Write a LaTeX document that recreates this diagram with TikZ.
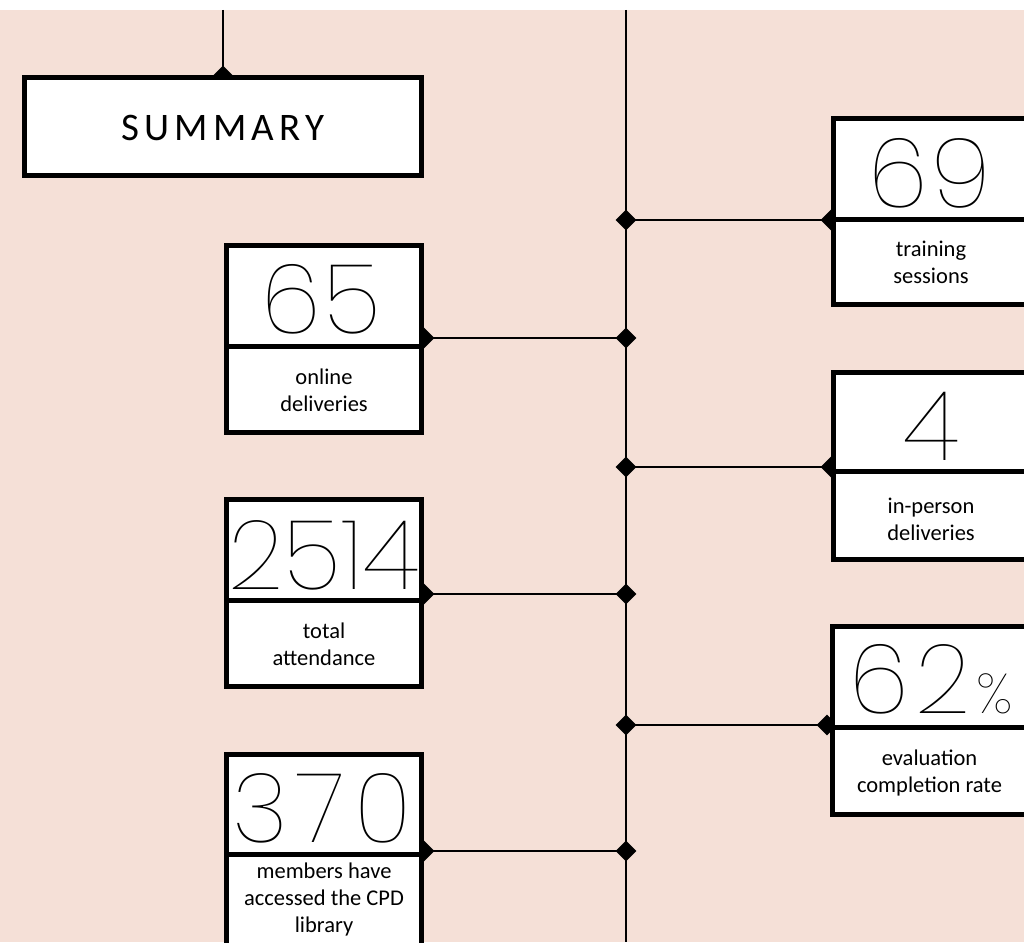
\documentclass[tikz,border=0pt]{standalone}
\usepackage{fontspec}
\setmainfont{Carlito}
\newfontfamily\numfont{Poppins Thin}
\usetikzlibrary{shapes.geometric}
\definecolor{bg}{RGB}{245,224,215}
\tikzset{
  box/.style={draw=black, fill=white, line width=5pt, inner sep=0pt, minimum width=195pt},
  num/.style={font=\numfont\fontsize{97}{97}\selectfont, anchor=base, inner sep=0pt},
  lbl/.style={font=\fontsize{22.5}{26.5}\selectfont, align=center, anchor=base, inner sep=0pt},
  jd/.style={diamond, fill=black, inner sep=0pt, minimum width=21pt, minimum height=21pt},
  link/.style={line width=2.5pt, draw=black},
}
\begin{document}
\begin{tikzpicture}[x=1pt,y=-1pt]
\useasboundingbox (0,0) rectangle (1024,942);
\clip (0,0) rectangle (1024,942);
\fill[bg] (0,10) rectangle (1024,942);
% spine
\coordinate (spT) at (626,10);
\coordinate (spB) at (626,942);
\coordinate (smT) at (223,10);
\draw[link] (spT) -- (spB);
% junction diamonds on spine
\node[jd] (j69) at (626,220) {};
\node[jd] (j65) at (626,338) {};
\node[jd] (j4) at (626,467) {};
\node[jd] (j2514) at (626,594) {};
\node[jd] (j62) at (626,725) {};
\node[jd] (j370) at (626,851) {};
% box-edge diamonds
\node[jd] (s) at (223,76) {};
\node[jd] (e69) at (831,220) {};
\node[jd] (e65) at (424,338) {};
\node[jd] (e4) at (831,467) {};
\node[jd] (e2514) at (424,594) {};
\node[jd] (e62) at (827,725) {};
\node[jd] (e370) at (424,851) {};
% connectors
\draw[link] (smT) -- (s.center);
\draw[link] (j69.center) -- (e69.center);
\draw[link] (j65.center) -- (e65.center);
\draw[link] (j4.center) -- (e4.center);
\draw[link] (j2514.center) -- (e2514.center);
\draw[link] (j62.center) -- (e62.center);
\draw[link] (j370.center) -- (e370.center);
% summary
\node[box, minimum width=397pt, minimum height=98pt] (sum) at (223,126.5) {};
\node[anchor=base, inner sep=0pt, font=\fontsize{39}{39}\selectfont] (sumt) at (223,140) {S\kern5pt U\kern5pt M\kern5pt M\kern5pt A\kern5pt R\kern5pt Y};
% left boxes
\node[box, minimum height=100.5pt] (b65) at (324,295.75) {};
\node[box, minimum height=86.5pt] (c65) at (324,389.25) {};
\node[box, minimum height=100.5pt] (b2514) at (324,549.75) {};
\node[box, minimum height=86.5pt] (c2514) at (324,643.25) {};
\node[box, minimum height=100pt] (b370) at (324,804.5) {};
\node[box, minimum height=105.5pt] (c370) at (324,907.25) {};
% right boxes
\node[box, minimum height=100.5pt] (b69) at (931,168.75) {};
\node[box, minimum height=85.5pt] (c69) at (931,261.75) {};
\node[box, minimum height=98.5pt] (b4) at (931,421.75) {};
\node[box, minimum height=88.5pt] (c4) at (931,515.25) {};
\node[box, minimum height=100.5pt] (b62) at (929.5,676.75) {};
\node[box, minimum height=87.5pt] (c62) at (929.5,770.75) {};
% numbers
\node[num] (n65) at (321,333) {6\kern3pt 5};
\node[num] (n69) at (930,207) {6\kern3pt 9};
\node[num] (n4) at (931,460) {4};
\node[num] (n2514) at (324,589) {2514};
\node[num] (n62) at (931,713) {6\kern6pt 2\kern6pt{\fontsize{56}{56}\selectfont\%}};
\node[num] (n370) at (322,842) {3\kern9pt 7\kern9pt 0};
% labels (base = last line)
\node[lbl] (l65) at (324,411) {online\\deliveries};
\node[lbl] (l69) at (931,283) {training\\sessions};
\node[lbl] (l4) at (931,540) {in-person\\deliveries};
\node[lbl] (l2514) at (324,665) {total\\attendance};
\node[lbl] (l62) at (929.5,792) {evaluation\\completion rate};
\node[lbl, font=\fontsize{22.5}{27}\selectfont] (l370) at (324,932) {members have\\accessed the CPD\\library};
\end{tikzpicture}
\end{document}
